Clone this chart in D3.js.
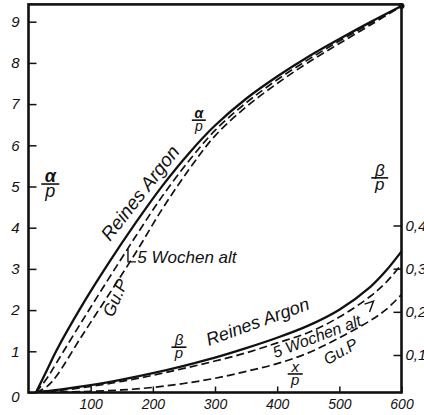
<!DOCTYPE html>
<html>
<head>
<meta charset="utf-8">
<script src="https://cdn.jsdelivr.net/npm/d3@7"></script>
<style>
  body { margin: 0; background: #fff; }
  text { font-family: "Liberation Sans", Arial, sans-serif; font-style: italic; fill: #111; }
</style>
</head>
<body>
<svg id="chart" width="424" height="415"></svg>
<script>
// alpha/p curves (left scale), E/p on x
const alphaX      = [12, 30, 45, 84, 128, 172, 215, 260, 300, 350, 400, 450, 500, 550, 600];
const alphaPure   = [0, 0.55, 1.02, 2.06, 3.12, 4.11, 5.01, 5.84, 6.48, 7.13, 7.67, 8.15, 8.58, 8.99, 9.38];
const alphaOld    = [0, 0.35, 0.72, 1.68, 2.74, 3.78, 4.76, 5.66, 6.36, 7.03, 7.59, 8.08, 8.53, 8.96, 9.38];
const alphaGuP    = [0, 0.15, 0.4, 1.33, 2.35, 3.38, 4.45, 5.45, 6.23, 6.93, 7.5, 8.01, 8.47, 8.92, 9.38];

// beta/p curves (right scale)
const betaX       = [12, 50, 100, 150, 200, 250, 300, 350, 400, 450, 500, 550, 575, 600];
const betaPure    = [0.014, 0.02, 0.03, 0.043, 0.058, 0.075, 0.094, 0.116, 0.14, 0.168, 0.205, 0.258, 0.295, 0.34];
const betaOld     = [0.014, 0.018, 0.027, 0.039, 0.053, 0.069, 0.086, 0.105, 0.128, 0.152, 0.188, 0.236, 0.268, 0.31];
const betaGuP     = [0.014, 0.014, 0.016, 0.019, 0.025, 0.034, 0.046, 0.062, 0.08, 0.105, 0.14, 0.18, 0.205, 0.24];

const leftTicks   = [0, 1, 2, 3, 4, 5, 6, 7, 8, 9];
const bottomTicks = [100, 200, 300, 400, 500, 600];
const rightTicks  = [0.1, 0.2, 0.3, 0.4];

let svg = d3.select('#chart');

let x = d3.scaleLinear().domain([0, 600]).range([28.5, 401.5]);
let y = d3.scaleLinear().domain([0, 9]).range([392.5, 21.7]);
let yR = d3.scaleLinear().domain([0.1, 0.4]).range([355, 225.5]);
const yTop = 9.42;

// frame
svg.append('rect')
  .attr('x', x(0)).attr('y', y(yTop))
  .attr('width', x(600) - x(0)).attr('height', y(0) - y(yTop))
  .attr('fill', 'none').attr('stroke', '#111').attr('stroke-width', 2.6);

let styleAxis = (g, size) => {
  g.select('.domain').remove();
  g.selectAll('.tick line').attr('stroke', '#111').attr('stroke-width', 1.5);
  g.selectAll('text').attr('font-size', size).attr('font-style', 'italic')
    .attr('font-family', '"Liberation Sans", Arial, sans-serif').attr('fill', '#111');
};

svg.append('g')
  .attr('transform', `translate(${x(0)},0)`)
  .call(d3.axisLeft(y).tickValues(leftTicks).tickSizeInner(-8).tickSizeOuter(0).tickPadding(9))
  .call(g => styleAxis(g, 15))
  .call(g => g.selectAll('.tick').filter(d => d === 0).select('text').attr('dy', '0.62em'));

svg.append('g')
  .attr('transform', `translate(0,${y(0)})`)
  .call(d3.axisBottom(x).tickValues(bottomTicks).tickSizeInner(-6).tickSizeOuter(0).tickPadding(7))
  .call(g => styleAxis(g, 14));

svg.append('g')
  .attr('transform', `translate(${x(600)},0)`)
  .call(d3.axisRight(yR).tickValues(rightTicks).tickSizeInner(-8).tickSizeOuter(0).tickPadding(4)
    .tickFormat(d => d3.format('.1f')(d).replace('.', ',')))
  .call(g => styleAxis(g, 15));

// curves
let drawCurve = (xs, ys, scaleY, dashed) => {
  let line = d3.line()
    .x((d, i) => x(xs[i]))
    .y(d => scaleY(d))
    .curve(d3.curveCatmullRom.alpha(0.5));
  svg.append('path')
    .datum(ys)
    .attr('fill', 'none')
    .attr('stroke', '#111')
    .attr('stroke-width', dashed ? 1.7 : 2.3)
    .attr('stroke-dasharray', dashed ? '8,4' : null)
    .attr('d', line);
};
drawCurve(alphaX, alphaPure, y, false);
drawCurve(alphaX, alphaOld, y, true);
drawCurve(alphaX, alphaGuP, y, true);
drawCurve(betaX, betaPure, yR, false);
drawCurve(betaX, betaOld, yR, true);
drawCurve(betaX, betaGuP, yR, true);

svg.append('circle')
  .attr('cx', x(600)).attr('cy', y(alphaPure[alphaPure.length - 1]))
  .attr('r', 3).attr('fill', '#111');

// labels
let label = (xv, yv, txt, size, angle) => {
  svg.append('text')
    .attr('transform', `translate(${x(xv)},${y(yv)}) rotate(${angle})`)
    .attr('font-size', size)
    .text(txt);
};
let frac = (xv, yv, top, bottom, size, boldTop) => {
  let cx = x(xv), cy = y(yv);
  svg.append('text').attr('x', cx).attr('y', cy - 2)
    .attr('text-anchor', 'middle').attr('font-size', size)
    .attr('font-weight', boldTop ? 'bold' : null).text(top);
  svg.append('line')
    .attr('x1', cx - size * 0.5).attr('x2', cx + size * 0.5)
    .attr('y1', cy).attr('y2', cy)
    .attr('stroke', '#111').attr('stroke-width', 1.6);
  svg.append('text').attr('x', cx).attr('y', cy + size * 0.74)
    .attr('text-anchor', 'middle').attr('font-size', size).text(bottom);
};

frac(35, 5.06, 'α', 'p', 18, true);
frac(565, 5.21, 'β', 'p', 17, false);
frac(274, 6.61, 'α', 'p', 14, true);
frac(242, 1.10, 'β', 'p', 15, false);
frac(429, 0.45, 'x', 'p', 15, false);

label(131, 3.65, 'Reines Argon', 19, -52);
label(175, 3.14, '5 Wochen alt', 17, 0);
label(136, 1.81, 'Gu.P', 17, -67);
label(290, 1.13, 'Reines Argon', 18, -20);
label(397, 0.83, '5 Wochen alt', 16, -21);
label(481, 0.66, 'Gu.P', 16, -30);

// little leader marks
let lx = x(160), ly = y(3.17);
svg.append('path')
  .attr('d', `M${lx},${ly - 13}V${ly}H${lx + 8}`)
  .attr('fill', 'none').attr('stroke', '#111').attr('stroke-width', 1.4);
let mx = x(547), my = y(2.17);
svg.append('path')
  .attr('d', `M${mx - 4},${my + 1}L${mx + 5},${my - 2}L${mx + 1},${my + 9}`)
  .attr('fill', 'none').attr('stroke', '#111').attr('stroke-width', 1.4);
</script>
</body>
</html>
